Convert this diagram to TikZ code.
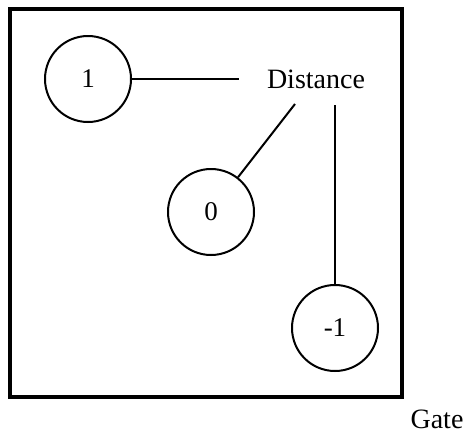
\documentclass[tikz,border=0pt]{standalone}
\usepackage{fontspec}
\setmainfont{Liberation Serif}
\begin{document}
\begin{tikzpicture}[x=1pt,y=-1pt,
  state/.style={circle,draw,line width=2pt,minimum size=86pt,inner sep=0pt,
    font=\fontsize{27}{30}\selectfont},
  lbl/.style={inner sep=0pt,font=\fontsize{28}{32}\selectfont},
  conn/.style={line width=2pt}]
\useasboundingbox (0,0) rectangle (466,434);
\draw[line width=3.3pt] (10,9) rectangle (402,397);
\node[state] (one) at (88,79) {1};
\node[state] (zero) at (211,212) {0};
\node[state] (minus) at (335,328) {-1};
\node[lbl] (dist) at (316,79) {Distance};
\node[lbl] (gate) at (437,419) {Gate};
\coordinate (d1) at (239,79);
\coordinate (d2) at (295,104);
\coordinate (d3) at (335,105);
\draw[conn] (one) -- (d1);
\draw[conn] (d2) -- (zero);
\draw[conn] (d3) -- (minus.north);
\end{tikzpicture}
\end{document}
